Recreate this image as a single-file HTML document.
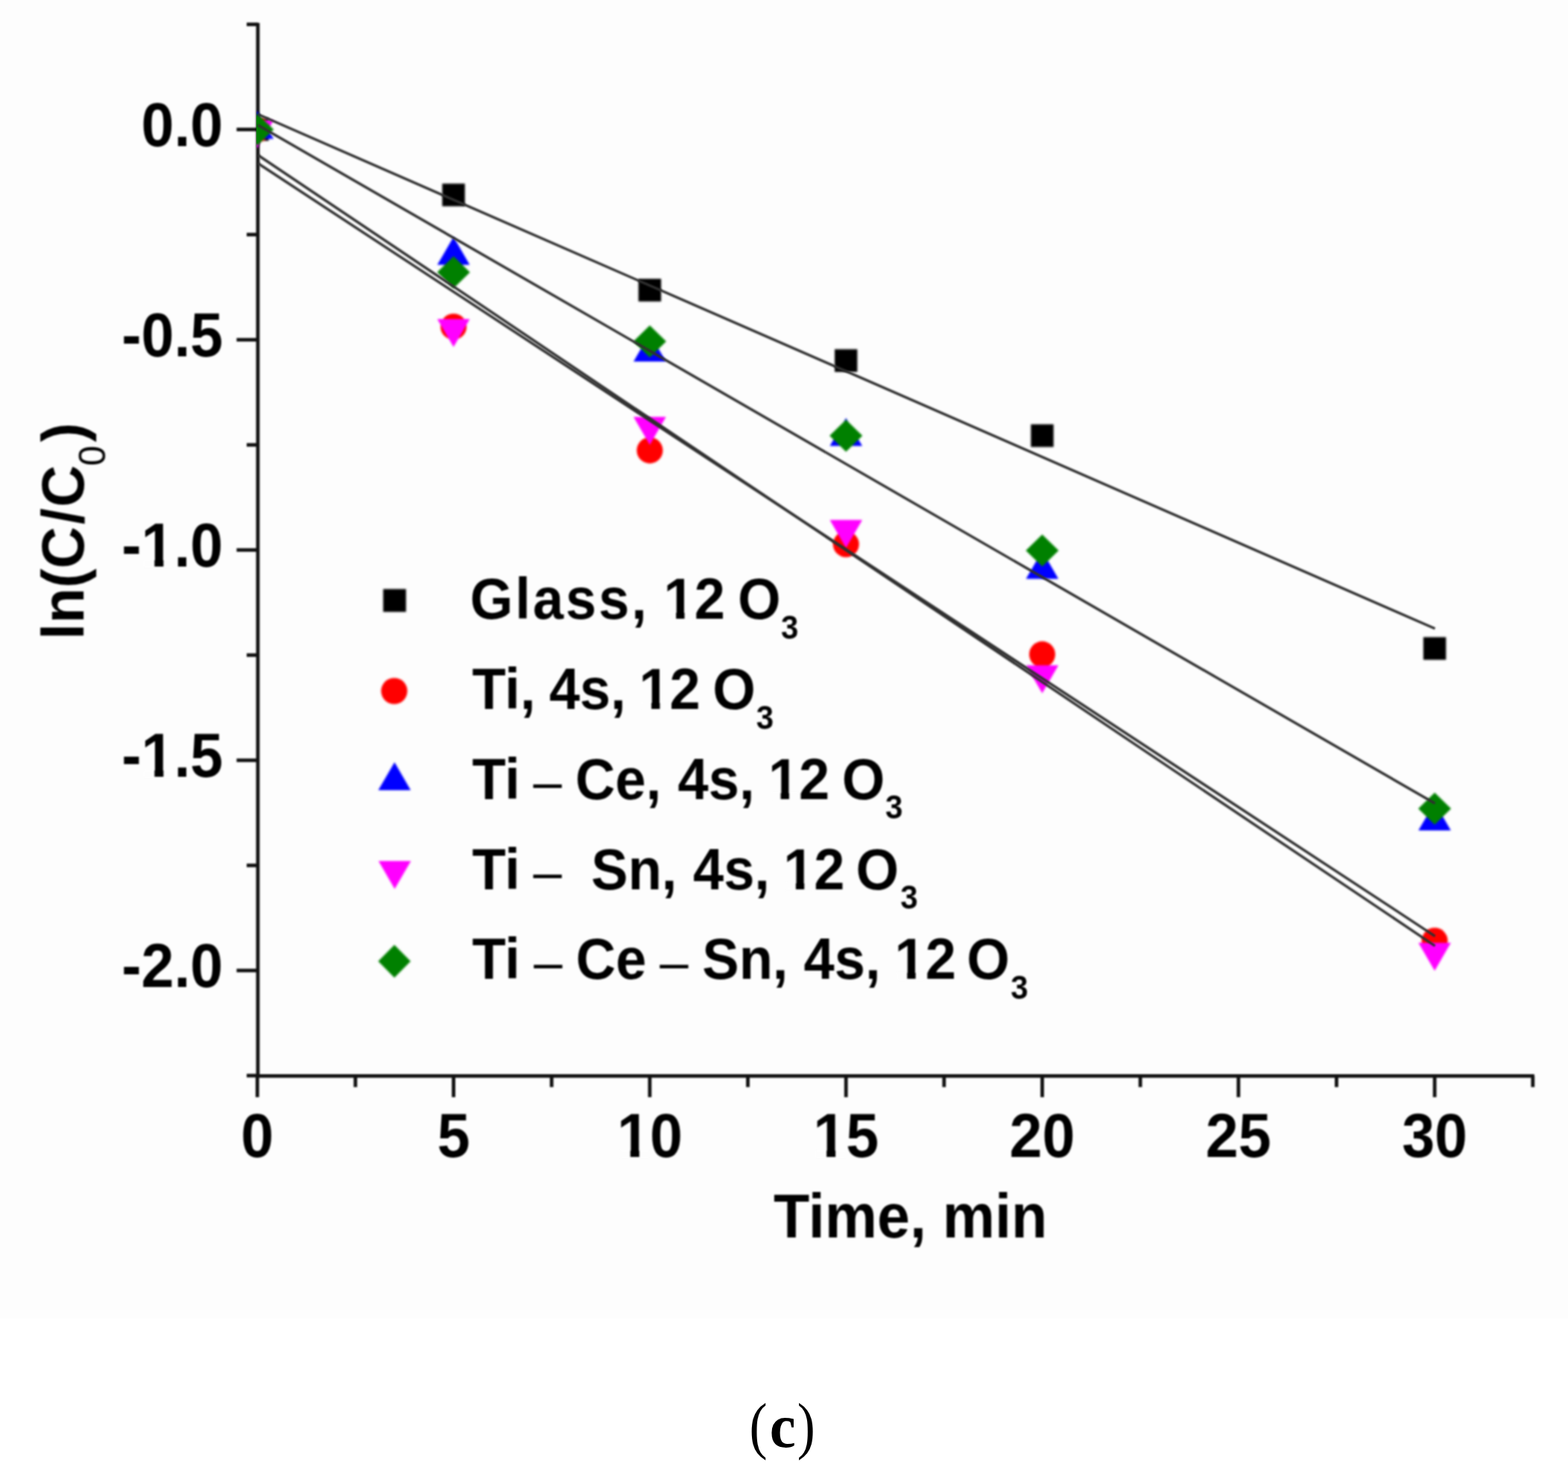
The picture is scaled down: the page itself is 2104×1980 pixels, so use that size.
<!DOCTYPE html>
<html><head><meta charset="utf-8"><title>ln(C/C0) vs Time</title>
<style>
html,body{margin:0;padding:0;background:#fff;}
svg{display:block;}
.t{font-family:"Liberation Sans",Arial,sans-serif;font-weight:bold;fill:#000;}
.serif{font-family:"Liberation Serif","Times New Roman",serif;font-weight:normal;fill:#000;}
.n{font-weight:normal;}
.b{font-weight:bold;}
</style></head><body>
<svg width="2104" height="1980" viewBox="0 0 2104 1980">
<rect x="0" y="0" width="2104" height="1769" fill="#fdfdfd"/>
<defs><clipPath id="pc"><rect x="344" y="0" width="1760" height="1442"/></clipPath>
<filter id="bt" x="-5%" y="-5%" width="110%" height="110%" color-interpolation-filters="sRGB"><feGaussianBlur stdDeviation="1.0"/></filter>
<filter id="bm" x="-5%" y="-5%" width="110%" height="110%" color-interpolation-filters="sRGB"><feGaussianBlur stdDeviation="1.6"/></filter></defs>
<g filter="url(#bt)">

<g stroke="#111" stroke-width="4.8" fill="none" stroke-linecap="butt">
<line x1="346.0" y1="30.7" x2="346.0" y2="1445.3"/>
<line x1="344.0" y1="1443.3" x2="2058.8" y2="1443.3"/>
<line x1="331.0" y1="32.7" x2="346.0" y2="32.7"/>
<line x1="317.5" y1="173.7" x2="346.0" y2="173.7"/>
<line x1="331.0" y1="314.7" x2="346.0" y2="314.7"/>
<line x1="317.5" y1="455.8" x2="346.0" y2="455.8"/>
<line x1="331.0" y1="596.8" x2="346.0" y2="596.8"/>
<line x1="317.5" y1="737.8" x2="346.0" y2="737.8"/>
<line x1="331.0" y1="878.8" x2="346.0" y2="878.8"/>
<line x1="317.5" y1="1019.9" x2="346.0" y2="1019.9"/>
<line x1="331.0" y1="1160.9" x2="346.0" y2="1160.9"/>
<line x1="317.5" y1="1301.9" x2="346.0" y2="1301.9"/>
<line x1="331.0" y1="1442.9" x2="346.0" y2="1442.9"/>
<line x1="345.3" y1="1443.3" x2="345.3" y2="1471.8"/>
<line x1="476.9" y1="1443.3" x2="476.9" y2="1458.3"/>
<line x1="608.6" y1="1443.3" x2="608.6" y2="1471.8"/>
<line x1="740.2" y1="1443.3" x2="740.2" y2="1458.3"/>
<line x1="871.9" y1="1443.3" x2="871.9" y2="1471.8"/>
<line x1="1003.5" y1="1443.3" x2="1003.5" y2="1458.3"/>
<line x1="1135.2" y1="1443.3" x2="1135.2" y2="1471.8"/>
<line x1="1266.8" y1="1443.3" x2="1266.8" y2="1458.3"/>
<line x1="1398.5" y1="1443.3" x2="1398.5" y2="1471.8"/>
<line x1="1530.1" y1="1443.3" x2="1530.1" y2="1458.3"/>
<line x1="1661.8" y1="1443.3" x2="1661.8" y2="1471.8"/>
<line x1="1793.4" y1="1443.3" x2="1793.4" y2="1458.3"/>
<line x1="1925.1" y1="1443.3" x2="1925.1" y2="1471.8"/>
<line x1="2056.8" y1="1443.3" x2="2056.8" y2="1458.3"/>
</g>
<g class="t">
<text transform="translate(299.3,196.2) scale(1,1.05)" font-size="79" text-anchor="end">0.0</text>
<text transform="translate(299.3,478.2) scale(1,1.05)" font-size="79" text-anchor="end">-0.5</text>
<text transform="translate(299.3,760.3) scale(1,1.05)" font-size="79" text-anchor="end">-1.0</text>
<text transform="translate(299.3,1042.4) scale(1,1.05)" font-size="79" text-anchor="end">-1.5</text>
<text transform="translate(299.3,1324.4) scale(1,1.05)" font-size="79" text-anchor="end">-2.0</text>
<text transform="translate(345.3,1552.3) scale(1,1.05)" font-size="79" text-anchor="middle">0</text>
<text transform="translate(608.6,1552.3) scale(1,1.05)" font-size="79" text-anchor="middle">5</text>
<text transform="translate(871.9,1552.3) scale(1,1.05)" font-size="79" text-anchor="middle">10</text>
<text transform="translate(1135.2,1552.3) scale(1,1.05)" font-size="79" text-anchor="middle">15</text>
<text transform="translate(1398.5,1552.3) scale(1,1.05)" font-size="79" text-anchor="middle">20</text>
<text transform="translate(1661.8,1552.3) scale(1,1.05)" font-size="79" text-anchor="middle">25</text>
<text transform="translate(1925.1,1552.3) scale(1,1.05)" font-size="79" text-anchor="middle">30</text>
<text transform="translate(1221.6,1660) scale(1,1.05)" font-size="79" text-anchor="middle">Time, min</text>
<text transform="translate(112.3,858) rotate(-90) scale(1,1.03)" font-size="78">ln(C<tspan x="154.5">/</tspan><tspan x="177.8">C</tspan><tspan class="n" x="233" y="28" font-size="49">0</tspan><tspan x="265" y="0">)</tspan></text>
<g transform="translate(189.48,760.30) scale(1,1.05)" fill="#fdfdfd"><rect x="3.48" y="-9.16" width="14.36" height="10.16"/><rect x="29.88" y="-9.16" width="13.36" height="10.16"/></g>
<g transform="translate(189.48,1042.35) scale(1,1.05)" fill="#fdfdfd"><rect x="3.48" y="-9.16" width="14.36" height="10.16"/><rect x="29.88" y="-9.16" width="13.36" height="10.16"/></g>
<g transform="translate(827.96,1552.30) scale(1,1.05)" fill="#fdfdfd"><rect x="3.48" y="-9.16" width="14.36" height="10.16"/><rect x="29.88" y="-9.16" width="13.36" height="10.16"/></g>
<g transform="translate(1091.26,1552.30) scale(1,1.05)" fill="#fdfdfd"><rect x="3.48" y="-9.16" width="14.36" height="10.16"/><rect x="29.88" y="-9.16" width="13.36" height="10.16"/></g>
</g>
</g><g clip-path="url(#pc)"><g filter="url(#bm)">
<rect x="330.1" y="158.5" width="30.4" height="30.4" fill="#000"/>
<rect x="593.4" y="246.3" width="30.4" height="30.4" fill="#000"/>
<rect x="856.7" y="374.0" width="30.4" height="30.4" fill="#000"/>
<rect x="1120.0" y="468.5" width="30.4" height="30.4" fill="#000"/>
<rect x="1383.3" y="569.2" width="30.4" height="30.4" fill="#000"/>
<rect x="1909.9" y="854.7" width="30.4" height="30.4" fill="#000"/>
<circle cx="345.3" cy="173.7" r="17.5" fill="#f00"/>
<circle cx="608.6" cy="438.2" r="17.5" fill="#f00"/>
<circle cx="871.9" cy="604.2" r="17.5" fill="#f00"/>
<circle cx="1135.2" cy="730.0" r="17.5" fill="#f00"/>
<circle cx="1398.5" cy="877.8" r="17.5" fill="#f00"/>
<circle cx="1925.1" cy="1262.0" r="17.5" fill="#f00"/>
<polygon points="345.3,148.7 367.1,186.2 323.6,186.2" fill="#00f"/>
<polygon points="608.6,317.7 630.3,355.2 586.8,355.2" fill="#00f"/>
<polygon points="871.9,447.5 893.6,485.0 850.1,485.0" fill="#00f"/>
<polygon points="1135.2,560.8 1157.0,598.3 1113.5,598.3" fill="#00f"/>
<polygon points="1398.5,739.1 1420.2,776.6 1376.7,776.6" fill="#00f"/>
<polygon points="1925.1,1076.4 1946.8,1113.9 1903.3,1113.9" fill="#00f"/>
<polygon points="345.3,198.7 367.1,161.2 323.6,161.2" fill="#f0f"/>
<polygon points="608.6,465.5 630.3,428.0 586.8,428.0" fill="#f0f"/>
<polygon points="871.9,596.7 893.6,559.2 850.1,559.2" fill="#f0f"/>
<polygon points="1135.2,735.0 1157.0,697.5 1113.5,697.5" fill="#f0f"/>
<polygon points="1398.5,930.1 1420.2,892.6 1376.7,892.6" fill="#f0f"/>
<polygon points="1925.1,1302.3 1946.8,1264.8 1903.3,1264.8" fill="#f0f"/>
<polygon points="345.3,152.2 367.3,173.7 345.3,195.2 323.3,173.7" fill="#008000"/>
<polygon points="608.6,343.8 630.6,365.3 608.6,386.8 586.6,365.3" fill="#008000"/>
<polygon points="871.9,436.5 893.9,458.0 871.9,479.5 849.9,458.0" fill="#008000"/>
<polygon points="1135.2,563.1 1157.2,584.6 1135.2,606.1 1113.2,584.6" fill="#008000"/>
<polygon points="1398.5,717.0 1420.5,738.5 1398.5,760.0 1376.5,738.5" fill="#008000"/>
<polygon points="1925.1,1063.2 1947.1,1084.7 1925.1,1106.2 1903.1,1084.7" fill="#008000"/>
</g><g stroke="#303030" stroke-width="3.4" fill="none" filter="url(#bt)">
<line x1="346.0" y1="153.25" x2="1925.5" y2="843.3"/>
<line x1="346.0" y1="167.7" x2="1925.5" y2="1077.8"/>
<line x1="346.0" y1="208" x2="1925.5" y2="1268.8"/>
<line x1="346.0" y1="219" x2="1925.5" y2="1255.8"/>
</g></g>
<g filter="url(#bm)">
<rect x="514.2" y="790.2" width="30.6" height="30.6" fill="#000"/>
<circle cx="529.0" cy="927.0" r="17.6" fill="#f00"/>
<polygon points="529.4,1022.5 551.1,1060.0 507.6,1060.0" fill="#00f"/>
<polygon points="529.6,1192.5 551.4,1155.0 507.9,1155.0" fill="#f0f"/>
<polygon points="529.2,1267.6 551.0,1289.6 529.2,1311.6 507.5,1289.6" fill="#008000"/>
</g><g filter="url(#bt)">
<text class="t" transform="translate(0,830.0) scale(1,1.05)" font-size="74"><tspan x="630.8" y="0" letter-spacing="3">Glass,</tspan> <tspan x="890.5" y="0">12</tspan> <tspan x="990.0" y="0">O</tspan><tspan x="1047.9" y="25.4" font-size="42">3</tspan></text>
<text class="t" transform="translate(0,950.9) scale(1,1.05)" font-size="74"><tspan x="633.5" y="0">Ti,</tspan> <tspan x="736.9" y="0">4s,</tspan> <tspan x="857.4" y="0">12</tspan> <tspan x="956.3" y="0">O</tspan><tspan x="1014.8" y="25.4" font-size="42">3</tspan></text>
<text class="t" transform="translate(0,1071.7) scale(1,1.05)" font-size="74"><tspan x="633.5" y="0">Ti</tspan> <tspan class="n" x="715.6" y="1.5" font-size="69">–</tspan> <tspan x="772.1" y="0">Ce,</tspan> <tspan x="909.6" y="0">4s,</tspan> <tspan x="1030.9" y="0">12</tspan> <tspan x="1129.7" y="0">O</tspan><tspan x="1187.9" y="25.4" font-size="42">3</tspan></text>
<text class="t" transform="translate(0,1192.6) scale(1,1.05)" font-size="74"><tspan x="633.5" y="0">Ti</tspan> <tspan class="n" x="715.6" y="1.5" font-size="69">–</tspan> <tspan x="793.3" y="0">Sn,</tspan> <tspan x="930.0" y="0">4s,</tspan> <tspan x="1051.2" y="0">12</tspan> <tspan x="1148.5" y="0">O</tspan><tspan x="1208.3" y="25.4" font-size="42">3</tspan></text>
<text class="t" transform="translate(0,1313.4) scale(1,1.05)" font-size="74"><tspan x="633.5" y="0">Ti</tspan> <tspan class="n" x="716.3" y="1.5" font-size="69">–</tspan> <tspan x="772.7" y="0">Ce</tspan> <tspan class="n" x="885.3" y="1.5" font-size="69">–</tspan> <tspan x="942.3" y="0">Sn,</tspan> <tspan x="1078.6" y="0">4s,</tspan> <tspan x="1200.6" y="0">12</tspan> <tspan x="1297.2" y="0">O</tspan><tspan x="1356.3" y="25.4" font-size="42">3</tspan></text>
<g transform="translate(890.50,830.00) scale(1,1.05)" fill="#fdfdfd"><rect x="3.16" y="-8.65" width="13.51" height="9.65"/><rect x="28.02" y="-8.65" width="12.57" height="9.65"/></g>
<g transform="translate(857.40,950.90) scale(1,1.05)" fill="#fdfdfd"><rect x="3.16" y="-8.65" width="13.51" height="9.65"/><rect x="28.02" y="-8.65" width="12.57" height="9.65"/></g>
<g transform="translate(1030.90,1071.70) scale(1,1.05)" fill="#fdfdfd"><rect x="3.16" y="-8.65" width="13.51" height="9.65"/><rect x="28.02" y="-8.65" width="12.57" height="9.65"/></g>
<g transform="translate(1051.20,1192.60) scale(1,1.05)" fill="#fdfdfd"><rect x="3.16" y="-8.65" width="13.51" height="9.65"/><rect x="28.02" y="-8.65" width="12.57" height="9.65"/></g>
<g transform="translate(1200.60,1313.40) scale(1,1.05)" fill="#fdfdfd"><rect x="3.16" y="-8.65" width="13.51" height="9.65"/><rect x="28.02" y="-8.65" width="12.57" height="9.65"/></g>
</g>
<text class="serif" transform="translate(1005.6,1941) scale(0.86,1)" font-size="84">(</text>
<text class="serif b" transform="translate(1032.75,1941) scale(0.95,1)" font-size="83">c</text>
<text class="serif" transform="translate(1069.8,1941) scale(0.86,1)" font-size="84">)</text>
</svg></body></html>
